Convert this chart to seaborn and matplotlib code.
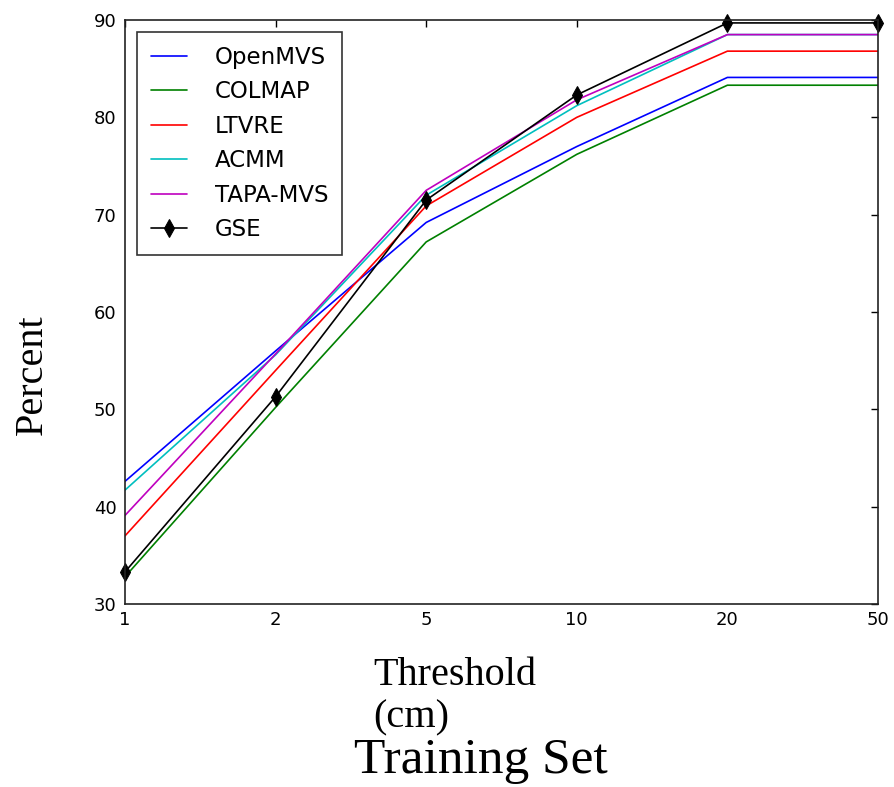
import matplotlib
matplotlib.use("Agg")
import matplotlib.pyplot as plt
import seaborn as sns
import pandas as pd

thresholds = ["1", "2", "5", "10", "20", "50"]
openmvs = [42.6, 56.0, 69.2, 77.0, 84.1, 84.1]
colmap = [32.8, 50.2, 67.2, 76.2, 83.3, 83.3]
ltvre = [37.0, 54.0, 70.9, 80.0, 86.8, 86.8]
acmm = [41.7, 55.6, 72.0, 81.2, 88.5, 88.5]
tapa = [39.1, 55.7, 72.5, 81.8, 88.5, 88.5]
gse = [33.3, 51.3, 71.5, 82.3, 89.7, 89.7]

series = [("OpenMVS", openmvs, "#0000ff"), ("COLMAP", colmap, "#008000"),
          ("LTVRE", ltvre, "#ff0000"), ("ACMM", acmm, "#00bfbf"),
          ("TAPA-MVS", tapa, "#bf00bf"), ("GSE", gse, "#000000")]

sns.set_style("white", {"xtick.direction": "in", "ytick.direction": "in"})
plt.rcParams["font.family"] = ["DejaVu Sans"]
plt.rcParams["text.color"] = "black"

W, H = 894, 787
fig = plt.figure(figsize=(W / 100, H / 100), dpi=100)
ax = fig.add_axes([125 / W, 1 - 604 / H, (878 - 125) / W, (604 - 20) / H])

for name, vals, col in series:
    df = pd.DataFrame({"x": list(range(len(thresholds))), "y": vals})
    if name == "GSE":
        sns.lineplot(data=df, x="x", y="y", ax=ax, color=col, lw=1.2, label=name,
                     marker="d", markersize=9, markeredgecolor=col, clip_on=False)
    else:
        sns.lineplot(data=df, x="x", y="y", ax=ax, color=col, lw=1.2, label=name)

ax.set_xlim(0, 5)
ax.set_ylim(30, 90)
ax.set_xticks(range(len(thresholds)))
ax.set_xticklabels(thresholds)
ax.set_yticks([30, 40, 50, 60, 70, 80, 90])
ax.set_xlabel("")
ax.set_ylabel("")
ax.tick_params(axis="both", which="both", direction="in", length=5, width=1,
               top=True, right=True, labelsize=13, colors="black")
ax.tick_params(axis="x", pad=5)
ax.tick_params(axis="y", pad=6)
for sp in ax.spines.values():
    sp.set_color("#222222")
    sp.set_linewidth(1.2)

leg = ax.legend(loc="upper left", bbox_to_anchor=(12 / 753, 1 - 12 / 584), borderaxespad=0,
                fontsize=16.5, frameon=True, fancybox=False, handlelength=1.6,
                handletextpad=1.2, labelspacing=0.5, borderpad=0.6)
leg.get_frame().set_edgecolor("black")
leg.get_frame().set_linewidth(1.2)
for t in leg.get_texts():
    t.set_color("black")

serif = ["Liberation Serif", "DejaVu Serif"]
fig.text(42 / W, 1 - 375 / H, "Percent", rotation=90, ha="center", va="baseline",
         rotation_mode="anchor", fontsize=29, family=serif)
fig.text(373 / W, 1 - 685 / H, "Threshold", ha="left", va="baseline",
         fontsize=29, family=serif)
fig.text(373 / W, 1 - 727 / H, "(cm)", ha="left", va="baseline",
         fontsize=29, family=serif)
fig.text(354 / W, 1 - 773 / H, "Training Set", ha="left", va="baseline",
         fontsize=37, family=serif)

fig.savefig("out.png", dpi=100)
